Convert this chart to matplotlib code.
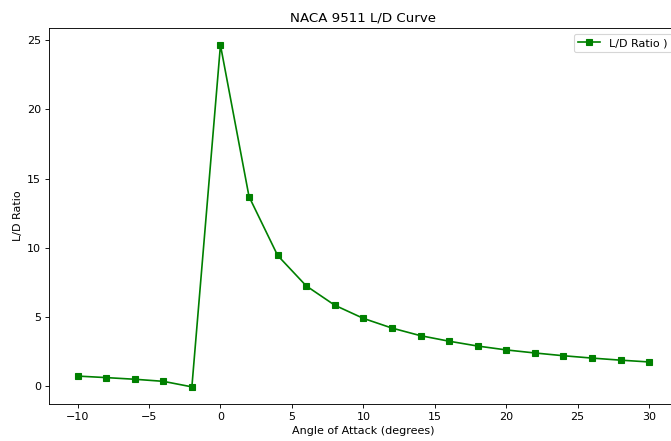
import numpy as np
import matplotlib
matplotlib.use('Agg')
import matplotlib.pyplot as plt

# angle of attack (deg) and lift-to-drag ratio
alpha = [-10, -8, -6, -4, -2, 0, 2, 4, 6, 8, 10, 12, 14, 16, 18, 20, 22, 24, 26, 28, 30]
ld_ratio = [0.73, 0.62, 0.5, 0.35, -0.05, 24.65, 13.7, 9.45, 7.25, 5.85, 4.9,
            4.2, 3.65, 3.25, 2.9, 2.62, 2.4, 2.2, 2.03, 1.88, 1.75]

fig = plt.figure(figsize=(671 / 80, 441 / 80), dpi=80)
ax = fig.add_axes([0.073, 0.084, 0.937, 0.8525])

ax.plot(alpha, ld_ratio, marker='s', color='green', label='L/D Ratio )')
ax.set_xlabel('Angle of Attack (degrees)')
ax.set_ylabel('L/D Ratio')
ax.set_title('NACA 9511 L/D Curve')
ax.legend(loc='upper right')

plt.savefig('out.png', dpi=80)
